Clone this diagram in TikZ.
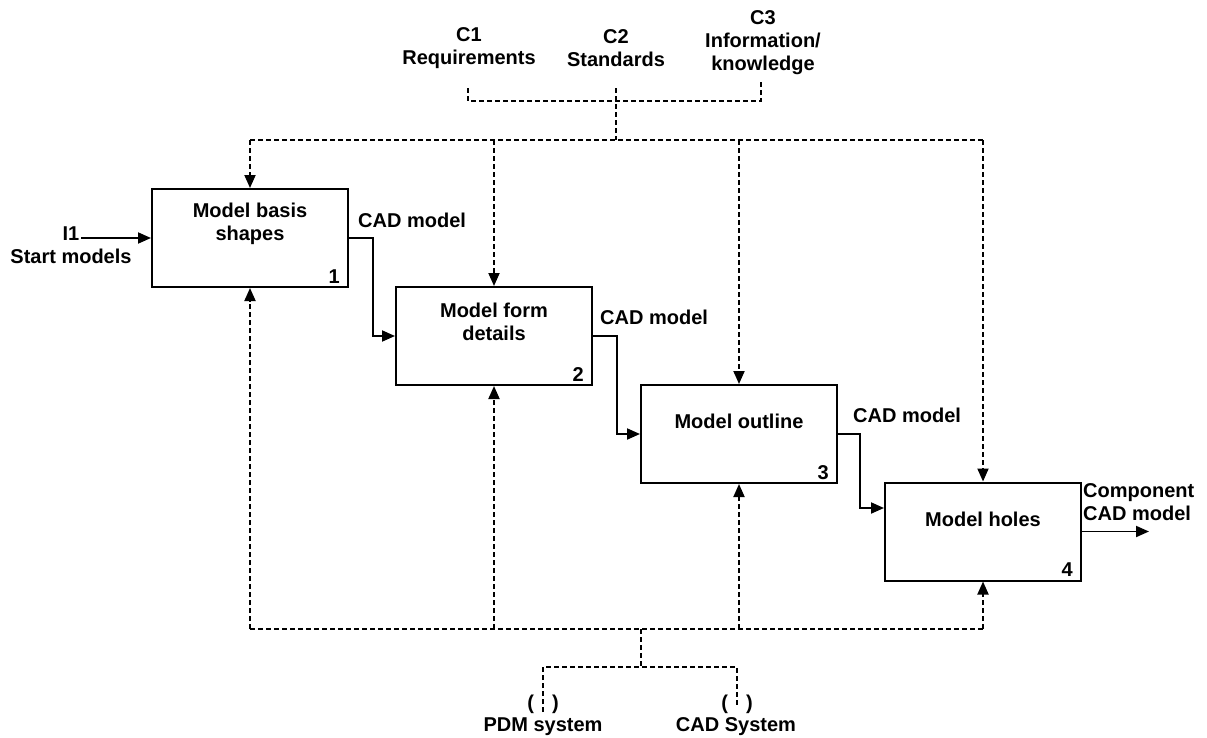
\documentclass[tikz,border=0pt]{standalone}
\usepackage{fontspec}
\setmainfont{Liberation Sans}
\usetikzlibrary{arrows.meta,calc}
\begin{document}
\begin{tikzpicture}[x=1pt,y=-1pt,
  every node/.style={font=\bfseries\fontsize{20}{23}\selectfont, inner sep=0pt},
  actbox/.style={draw, line width=2pt, minimum width=196pt, minimum height=98pt},
  flow/.style={line width=1.9pt, -{Triangle[length=13pt,width=11pt]}},
  ctrl/.style={line width=1.9pt, dash pattern=on 5pt off 3pt},
  ctrlarrow/.style={ctrl, -{Triangle[length=13pt,width=11pt]}},
]
\useasboundingbox (0,0) rectangle (1207,737);

% activity boxes
\node[actbox] (b1) at (250,238) {};
\node[actbox] (b2) at (494,336) {};
\node[actbox] (b3) at (739,434) {};
\node[actbox] (b4) at (983,531.5) {};

% box titles
\node[align=center] (t1) at (250,224) {Model basis\\shapes};
\node[align=center] (t2) at (494,322) {Model form\\details};
\node (t3) at (739,421) {Model outline};
\node (t4) at (983,519) {Model holes};

% box numbers
\node[anchor=base east] (n1) at ([shift={(-9,-5)}]b1.south east) {1};
\node[anchor=base east] (n2) at ([shift={(-9,-5)}]b2.south east) {2};
\node[anchor=base east] (n3) at ([shift={(-9,-5)}]b3.south east) {3};
\node[anchor=base east] (n4) at ([shift={(-9,-5)}]b4.south east) {4};

% input
\node[align=center] (i1l) at (71,245) {I1\\Start models};
\coordinate (in1) at (81,238);
\draw[flow] (in1) -- (b1.west);

% flow between activities
\coordinate (b4in) at ([yshift=23.5pt]b4.west);
\draw[flow] (b1.east) -- ++(24,0) |- (b2.west);
\draw[flow] (b2.east) -- ++(24,0) |- (b3.west);
\draw[flow] (b3.east) -- ++(22,0) |- (b4in);
\coordinate (out) at (1149,0);
\draw[flow] (b4.east) -- (b4.east -| out);

% output labels
\node[anchor=west] (o1) at (358,220) {CAD model};
\node[anchor=west] (o2) at (600,317) {CAD model};
\node[anchor=west] (o3) at (853,415) {CAD model};
\node[anchor=west, align=left] (o4) at (1083,502) {Component\\CAD model};

% controls
\node[align=center] (l1) at (469,48) {C1\\Requirements};
\node[align=center] (l2) at (616,48) {C2\\Standards};
\node[align=center] (l3) at (763,43) {C3\\Information/\\knowledge};
\coordinate (c1) at (468,88);
\coordinate (c2) at (616,88);
\coordinate (c3) at (761,80);
\coordinate (tj) at (616,101);
\coordinate (tb) at (616,140);
\draw[ctrl] (c1) |- (tj) -| (c3);
\draw[ctrl] (c2) -- (tb);
\draw[ctrl] (b1.north |- tb) -- (b4.north |- tb);
\foreach \b in {b1,b2,b3,b4}
  \draw[ctrlarrow] (\b.north |- tb) -- (\b.north);

% mechanisms
\coordinate (bb) at (641,629);
\coordinate (bj) at (641,667);
\coordinate (pdm) at (543,712);
\coordinate (cad) at (737,705);
\draw[ctrl] (b1.south |- bb) -- (b4.south |- bb);
\foreach \b in {b1,b2,b3,b4}
  \draw[ctrlarrow] (\b.south |- bb) -- (\b.south);
\draw[ctrl] (bb) -- (bj);
\draw[ctrl] (pdm) |- (bj) -| (cad);
\node (p1) at (543,704) {(\hspace{18pt})};
\node (p2) at (737,704) {(\hspace{18pt})};
\node (m1) at (543,727) {PDM system};
\node (m2) at (736,727) {CAD System};
\end{tikzpicture}
\end{document}
